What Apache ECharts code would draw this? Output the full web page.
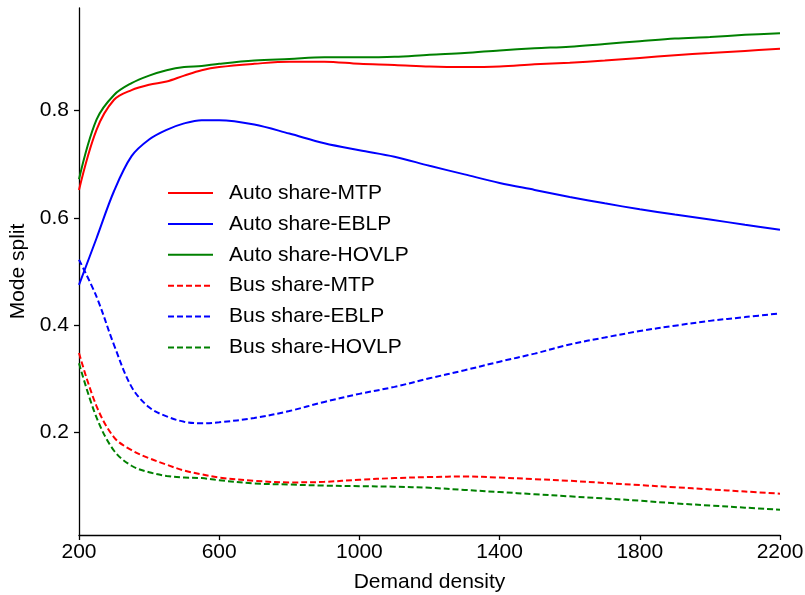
<!DOCTYPE html>
<html>
<head>
<meta charset="utf-8">
<script src="https://cdn.jsdelivr.net/npm/echarts@6/dist/echarts.min.js"></script>
<style>
  html, body { margin: 0; padding: 0; background: #fff; }
  #main { width: 805px; height: 595px; }
</style>
</head>
<body>
<div id="main"></div>
<script>
// demand density samples
var density = [200, 250, 300, 350, 400, 450, 500, 550, 600, 700, 800, 900, 1000,
               1100, 1200, 1300, 1400, 1500, 1600, 1700, 1800, 1900, 2000, 2100, 2200];

var autoMTP   = [0.652, 0.764, 0.820, 0.838, 0.848, 0.854, 0.865, 0.875, 0.881, 0.887, 0.891, 0.891, 0.887,
                 0.885, 0.882, 0.881, 0.882, 0.886, 0.889, 0.893, 0.898, 0.903, 0.907, 0.911, 0.915];
var autoEBLP  = [0.475, 0.562, 0.650, 0.715, 0.746, 0.764, 0.776, 0.782, 0.782, 0.774, 0.757, 0.739, 0.726,
                 0.714, 0.697, 0.681, 0.665, 0.652, 0.639, 0.627, 0.616, 0.606, 0.597, 0.587, 0.578];
var autoHOVLP = [0.672, 0.783, 0.829, 0.851, 0.865, 0.875, 0.881, 0.883, 0.887, 0.893, 0.896, 0.899, 0.899,
                 0.900, 0.904, 0.907, 0.912, 0.916, 0.919, 0.924, 0.929, 0.934, 0.937, 0.941, 0.944];
var busMTP    = [0.348, 0.249, 0.191, 0.167, 0.152, 0.140, 0.129, 0.122, 0.116, 0.110, 0.107, 0.108, 0.112,
                 0.115, 0.117, 0.118, 0.116, 0.113, 0.110, 0.106, 0.102, 0.098, 0.094, 0.090, 0.086];
var busEBLP   = [0.522, 0.453, 0.363, 0.285, 0.247, 0.230, 0.220, 0.217, 0.219, 0.227, 0.240, 0.257, 0.272,
                 0.285, 0.301, 0.316, 0.332, 0.347, 0.364, 0.377, 0.389, 0.399, 0.408, 0.415, 0.422];
var busHOVLP  = [0.329, 0.228, 0.166, 0.138, 0.126, 0.119, 0.116, 0.115, 0.111, 0.105, 0.103, 0.101, 0.100,
                 0.099, 0.097, 0.093, 0.089, 0.085, 0.081, 0.077, 0.073, 0.068, 0.064, 0.060, 0.056];

var yTicks = [0.2, 0.4, 0.6, 0.8];

var font = 'Liberation Sans, Arial, sans-serif';

function pairs(ys) {
    return density.map(function (x, i) { return [x, ys[i]]; });
}

function line(name, ys, color, dashed) {
    return {
        name: name,
        type: 'line',
        data: pairs(ys),
        smooth: 0.35,
        symbol: 'none',
        lineStyle: { color: color, width: 2, type: dashed ? [6, 3] : 'solid' },
        itemStyle: { color: color }
    };
}

var myChart = echarts.init(document.getElementById('main'));
var option = {
    animation: false,
    backgroundColor: '#fff',
    grid: { left: 79, right: 25, top: 8, bottom: 60, outerBoundsMode: 'none' },
    legend: {
        orient: 'vertical',
        left: 167,
        top: 182.5,
        padding: 0,
        itemWidth: 45,
        itemHeight: 20,
        itemGap: 9.9,
        itemStyle: { opacity: 0 },
        textStyle: { fontFamily: font, fontSize: 21, color: '#000', lineHeight: 20, padding: [0, 0, 0, 11] },
        data: ['Auto share-MTP', 'Auto share-EBLP', 'Auto share-HOVLP',
               'Bus share-MTP', 'Bus share-EBLP', 'Bus share-HOVLP']
    },
    xAxis: {
        type: 'value',
        min: 200,
        max: 2200,
        interval: 400,
        name: 'Demand density',
        nameLocation: 'middle',
        nameGap: 37,
        nameTextStyle: { fontFamily: font, fontSize: 21, color: '#000' },
        axisLine: { lineStyle: { color: '#000', width: 1.3 } },
        axisTick: { length: 5, lineStyle: { color: '#000', width: 1.3 } },
        axisLabel: {
            fontFamily: font, fontSize: 21, color: '#000', margin: 7,
            formatter: function (v) { return String(v); }
        },
        splitLine: { show: false }
    },
    yAxis: {
        type: 'value',
        min: 0.009,
        max: 0.991,
        name: 'Mode split',
        nameLocation: 'middle',
        nameGap: 47,
        nameTextStyle: { fontFamily: font, fontSize: 21, color: '#000' },
        axisLine: { show: true, lineStyle: { color: '#000', width: 1.3 } },
        axisTick: { show: true, length: 5, customValues: yTicks, lineStyle: { color: '#000', width: 1.3 } },
        axisLabel: {
            fontFamily: font, fontSize: 21, color: '#000', margin: 10,
            customValues: yTicks,
            formatter: function (v) { return v.toFixed(1); }
        },
        splitLine: { show: false }
    },
    series: [
        line('Auto share-MTP', autoMTP, '#ff0000', false),
        line('Auto share-EBLP', autoEBLP, '#0000ff', false),
        line('Auto share-HOVLP', autoHOVLP, '#008000', false),
        line('Bus share-MTP', busMTP, '#ff0000', true),
        line('Bus share-EBLP', busEBLP, '#0000ff', true),
        line('Bus share-HOVLP', busHOVLP, '#008000', true)
    ]
};
myChart.setOption(option);
</script>
</body>
</html>
